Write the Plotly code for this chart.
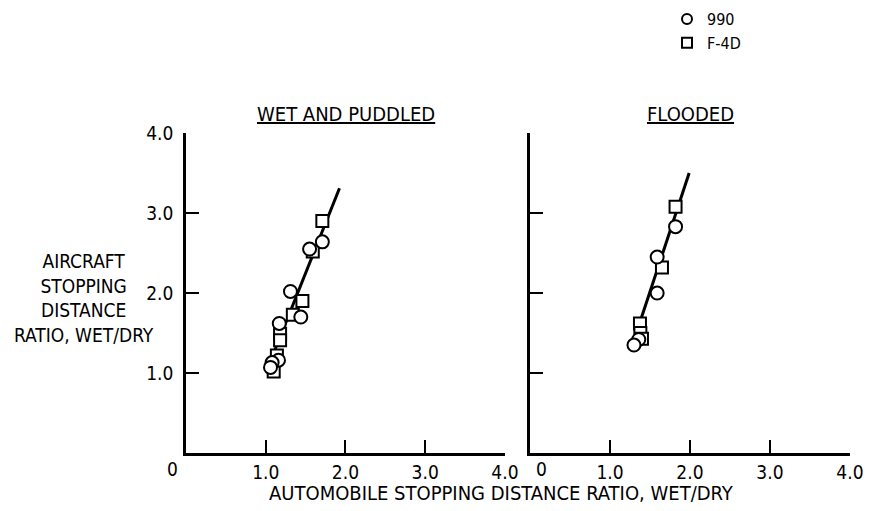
import plotly.graph_objects as go

# Stopping-distance ratios (wet/dry): automobile (x) vs aircraft (y)
wet_990_x = [1.71, 1.55, 1.31, 1.44, 1.17, 1.16, 1.08, 1.06]
wet_990_y = [2.64, 2.55, 2.02, 1.70, 1.62, 1.16, 1.13, 1.07]
wet_f4d_x = [1.71, 1.59, 1.46, 1.34, 1.18, 1.18, 1.14, 1.10]
wet_f4d_y = [2.90, 2.52, 1.90, 1.73, 1.49, 1.41, 1.22, 1.02]
wet_fit_x = [1.10, 1.925]
wet_fit_y = [1.25, 3.31]

flood_990_x = [1.82, 1.59, 1.59, 1.36, 1.30]
flood_990_y = [2.83, 2.45, 2.00, 1.42, 1.35]
flood_f4d_x = [1.82, 1.65, 1.375, 1.38, 1.40]
flood_f4d_y = [3.08, 2.32, 1.62, 1.50, 1.43]
flood_fit_x = [1.297, 1.99]
flood_fit_y = [1.40, 3.50]

tick_vals = [1, 2, 3, 4]
tick_text = ["1.0", "2.0", "3.0", "4.0"]
panel_titles = ["WET AND PUDDLED", "FLOODED"]
series_names = ["990", "F-4D"]
x_title = "AUTOMOBILE STOPPING DISTANCE RATIO, WET/DRY"
y_title = "AIRCRAFT<br>STOPPING<br>DISTANCE<br>RATIO, WET/DRY"

FONT = "DejaVu Sans Condensed, Liberation Sans Narrow, Arial Narrow, sans-serif"
INK = "black"

# Page geometry (px): plotting band below the legend/title strip
W, H = 870, 511
M_L, M_R, M_T, M_B = 186, 20, 0, 58
PLOT_H = H - M_T - M_B
Y_TOP = 133  # top of both panels


def py(px_from_top):
    """Paper y coordinate for a pixel row measured from the page top."""
    return (H - M_B - px_from_top) / PLOT_H


def px(px_from_left):
    return (px_from_left - M_L) / (W - M_L - M_R)


fig = go.Figure()


def add_panel(xa, ya, fit_x, fit_y, c_x, c_y, s_x, s_y):
    fig.add_trace(go.Scatter(x=fit_x, y=fit_y, mode="lines",
                             line=dict(color=INK, width=3),
                             xaxis=xa, yaxis=ya, showlegend=False, hoverinfo="skip"))
    fig.add_trace(go.Scatter(x=s_x, y=s_y, mode="markers",
                             marker=dict(symbol="square", size=12, color="white",
                                         line=dict(color=INK, width=2)),
                             xaxis=xa, yaxis=ya, showlegend=False))
    fig.add_trace(go.Scatter(x=c_x, y=c_y, mode="markers",
                             marker=dict(symbol="circle", size=13, color="white",
                                         line=dict(color=INK, width=2)),
                             xaxis=xa, yaxis=ya, showlegend=False))


add_panel("x", "y", wet_fit_x, wet_fit_y, wet_990_x, wet_990_y, wet_f4d_x, wet_f4d_y)
add_panel("x2", "y2", flood_fit_x, flood_fit_y, flood_990_x, flood_990_y, flood_f4d_x, flood_f4d_y)

# Legend entries
for name, sym in zip(series_names, ["circle", "square"]):
    fig.add_trace(go.Scatter(x=[None], y=[None], mode="markers", name=name,
                             marker=dict(symbol=sym, size=10, color="white",
                                         line=dict(color=INK, width=2)),
                             xaxis="x2", yaxis="y2", showlegend=True))

axis_common = dict(range=[0, 4.001], showgrid=False, zeroline=False, showline=True,
                   linecolor=INK, linewidth=2.5, ticks="inside", ticklen=13,
                   tickwidth=2, tickcolor=INK, tickvals=tick_vals, fixedrange=True)

y_dom = [0, py(Y_TOP)]

fig.update_layout(
    width=W, height=H,
    margin=dict(l=M_L, r=M_R, t=M_T, b=M_B, autoexpand=False),
    paper_bgcolor="white", plot_bgcolor="white",
    font=dict(family=FONT, size=19, color=INK),
    xaxis=dict(domain=[0, px(505)], anchor="y", ticktext=tick_text, **axis_common),
    yaxis=dict(domain=y_dom, anchor="x", ticktext=tick_text, ticklabelstandoff=6,
               **axis_common),
    xaxis2=dict(domain=[px(530), 1], anchor="y2", ticktext=tick_text, **axis_common),
    yaxis2=dict(domain=y_dom, anchor="x2", showticklabels=False, **axis_common),
    legend=dict(x=667 / W, y=1 - 2 / H, xref="container", yref="container",
                xanchor="left", yanchor="top",
                bgcolor="rgba(0,0,0,0)", font=dict(size=16), tracegroupgap=0),
    showlegend=True,
)

# Zero labels sit beside the origin of each panel
fig.add_annotation(x=0, y=0, xref="x", yref="y", text="0", showarrow=False,
                   xshift=-14, yshift=-16, font=dict(size=19))
fig.add_annotation(x=0, y=0, xref="x2", yref="y2", text="0", showarrow=False,
                   xshift=11, yshift=-16, font=dict(size=19))

# Panel titles (underlined)
for ref, title in zip(["x domain", "x2 domain"], panel_titles):
    fig.add_annotation(x=0.5, y=py(114), xref=ref, yref="paper",
                       xanchor="center", yanchor="middle",
                       text="<u>" + title + "</u>", showarrow=False,
                       font=dict(size=20))

# Axis titles
fig.add_annotation(x=px(501), y=py(493), xref="paper", yref="paper",
                   xanchor="center", yanchor="middle",
                   text=x_title, showarrow=False, font=dict(size=20))
fig.add_annotation(x=px(84), y=py(298), xref="paper", yref="paper",
                   xanchor="center", yanchor="middle",
                   text=y_title, showarrow=False, align="center",
                   font=dict(size=19))

fig.write_html("out.html")
